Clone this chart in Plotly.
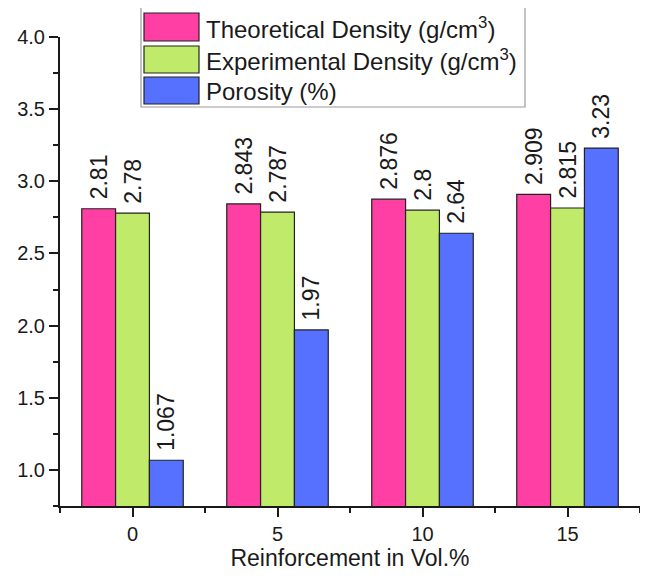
import plotly.graph_objects as go

categories = [0, 5, 10, 15]
series_names = ["Theoretical Density (g/cm<sup>3</sup>)",
                "Experimental Density (g/cm<sup>3</sup>)",
                "Porosity (%)"]
theoretical = [2.81, 2.843, 2.876, 2.909]
experimental = [2.78, 2.787, 2.8, 2.815]
porosity = [1.067, 1.97, 2.64, 3.23]
theoretical_lbl = ["2.81", "2.843", "2.876", "2.909"]
experimental_lbl = ["2.78", "2.787", "2.8", "2.815"]
porosity_lbl = ["1.067", "1.97", "2.64", "3.23"]
colors = ["#FF3FA3", "#C0EB6A", "#5670FF"]

FONT = "Liberation Sans, Arial, sans-serif"
INK = "#1a1a1a"

fig = go.Figure()
for vals, lbls, name, col in zip([theoretical, experimental, porosity],
                                 [theoretical_lbl, experimental_lbl, porosity_lbl],
                                 series_names, colors):
    fig.add_trace(go.Bar(
        x=categories, y=vals, name=name, text=lbls,
        texttemplate=" %{text}", textposition="outside", textangle=-90,
        textfont=dict(family=FONT, size=23, color=INK),
        constraintext="none", cliponaxis=False,
        marker=dict(color=col, line=dict(color="#222222", width=1.2)),
        showlegend=False,
    ))

# the page body has an 8px margin; figure is sized to fit the 648x579 window
OFF = 8
W, H = 632, 563
# plot area in page pixels: x 60..640, y 37..506
L, R, T, B = 60 - OFF, 0, 37 - OFF, H - (506 - OFF)
pw, ph = W - L - R, H - T - B

def px(x):
    return (x - OFF - L) / pw

def py(y):
    return (H - B - (y - OFF)) / ph

shapes = []
annotations = []
shapes.append(dict(type="rect", xref="paper", yref="paper",
                   x0=px(141), x1=px(525), y0=py(107), y1=py(7),
                   line=dict(color="#9a9a9a", width=1.2), fillcolor="white", layer="above"))
rows = [(13, 41), (46, 73), (77, 104)]
for (y0, y1), name, col in zip(rows, series_names, colors):
    shapes.append(dict(type="rect", xref="paper", yref="paper",
                       x0=px(144), x1=px(199), y0=py(y1), y1=py(y0),
                       line=dict(color="#222222", width=1.2), fillcolor=col, layer="above"))
    annotations.append(dict(xref="paper", yref="paper", x=px(204), y=py((y0 + y1) / 2 + 1),
                            text=name, showarrow=False, xanchor="left", yanchor="middle",
                            font=dict(family=FONT, size=24, color=INK)))

fig.update_layout(
    width=W, height=H,
    margin=dict(l=L, r=R, t=T, b=B, pad=0),
    paper_bgcolor="white", plot_bgcolor="white",
    barmode="group", bargap=0.3, bargroupgap=0,
    shapes=shapes, annotations=annotations,
    font=dict(family=FONT, color=INK),
    xaxis=dict(range=[-2.5, 17.5], tickvals=categories, ticks="outside", ticklen=9,
               tickwidth=2, tickcolor=INK, showline=True, linewidth=2, linecolor=INK,
               showgrid=False, zeroline=False, tickfont=dict(size=20, family=FONT, color=INK),
               minor=dict(tick0=0, dtick=2.5, ticks="outside", ticklen=5, tickwidth=2,
                          tickcolor=INK, showgrid=False),
               title=dict(text="Reinforcement in Vol.%", standoff=8,
                          font=dict(size=23, family=FONT, color=INK))),
    yaxis=dict(range=[0.75, 4.0], dtick=0.5, tick0=0, tickformat=".1f", ticks="outside",
               ticklen=9, tickwidth=2, tickcolor=INK, showline=True, linewidth=2,
               linecolor=INK, showgrid=False, zeroline=False,
               tickfont=dict(size=20, family=FONT, color=INK),
               minor=dict(tick0=0, dtick=0.25, ticks="outside", ticklen=5, tickwidth=2,
                          tickcolor=INK, showgrid=False)),
)

fig.write_html("out.html")
